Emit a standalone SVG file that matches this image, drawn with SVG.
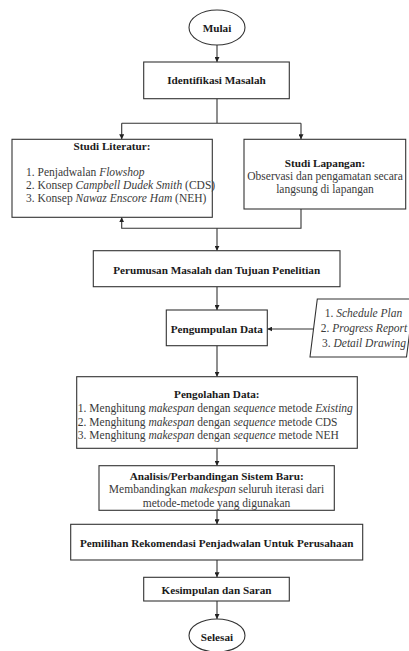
<svg xmlns="http://www.w3.org/2000/svg" width="409" height="651" viewBox="0 0 409 651">
<defs>
<style>
.b{fill:#fff;stroke:#333;stroke-width:1.1}
.c{fill:none;stroke:#333;stroke-width:1.1}
.t{font-family:'Liberation Serif',Tinos,'Times New Roman',Times,'DejaVu Serif',serif;font-size:11.5px;fill:#3a3a3a}
.h{font-family:'Liberation Serif',Tinos,'Times New Roman',Times,'DejaVu Serif',serif;font-size:11.2px;font-weight:bold;fill:#1a1a1a}
.m{text-anchor:middle}
</style>
<marker id="a" viewBox="0 0 10 10" refX="10" refY="5" markerWidth="5" markerHeight="5" orient="auto" markerUnits="userSpaceOnUse">
<path d="M0,0 L10,5 L0,10 Z" fill="#222"/>
</marker>
</defs>
<rect width="409" height="651" fill="#fff"/>
<g id="connectors" class="c">
<path d="M217,45 V62" marker-end="url(#a)"/>
<path d="M217,98.7 V123.3 M121.7,123.3 H301"/>
<path d="M121.7,123.3 V139.3" marker-end="url(#a)"/>
<path d="M301,123.3 V139.3" marker-end="url(#a)"/>
<path d="M301,209 V228.3 H121.7 V217.3" marker-end="url(#a)"/>
<path d="M217,228.3 V250.7" marker-end="url(#a)"/>
<path d="M217,286.7 V310" marker-end="url(#a)"/>
<path d="M314,329 H267.3" marker-end="url(#a)"/>
<path d="M217,345.7 V376.7" marker-end="url(#a)"/>
<path d="M217,448.3 V465.7" marker-end="url(#a)"/>
<path d="M217,510.3 V524.3" marker-end="url(#a)"/>
<path d="M217,560 V577.3" marker-end="url(#a)"/>
<path d="M217,601 V619" marker-end="url(#a)"/>
</g>
<g id="mulai">
<ellipse class="b" cx="217" cy="27.5" rx="28" ry="17.5"/>
<text class="h m" x="217" y="31.5" font-family="Liberation Serif, serif">Mulai</text>
</g>
<g id="identifikasi">
<rect class="b" x="143.7" y="62" width="145.6" height="36.7"/>
<text class="h m" x="216.5" y="84">Identifikasi Masalah</text>
</g>
<g id="studi-literatur">
<rect class="b" x="12" y="139.3" width="200.3" height="78"/>
<text class="h m" x="112" y="149.7">Studi Literatur:</text>
<text class="t" x="26" y="175.7">1. Penjadwalan <tspan font-style="italic">Flowshop</tspan></text>
<text class="t" x="26" y="189">2. Konsep <tspan font-style="italic">Campbell Dudek Smith</tspan> (CDS)</text>
<text class="t" x="26" y="202.3">3. Konsep <tspan font-style="italic">Nawaz Enscore Ham</tspan> (NEH)</text>
</g>
<g id="studi-lapangan">
<rect class="b" x="244" y="139.3" width="161.7" height="69.7"/>
<text class="h m" x="325" y="166.7">Studi Lapangan:</text>
<text class="t m" x="325" y="179.7">Observasi dan pengamatan secara</text>
<text class="t m" x="325" y="193">langsung di lapangan</text>
</g>
<g id="perumusan">
<rect class="b" x="93.3" y="250.7" width="246.7" height="36"/>
<text class="h m" x="216.7" y="274">Perumusan Masalah dan Tujuan Penelitian</text>
</g>
<g id="pengumpulan">
<rect class="b" x="166.3" y="310" width="101" height="35.7"/>
<text class="h m" x="216.8" y="333">Pengumpulan Data</text>
</g>
<g id="data-input">
<polygon class="b" points="317.3,299 414,299 406.5,357 310,357"/>
<text class="t m" x="363.5" y="317.3">1. <tspan font-style="italic">Schedule Plan</tspan></text>
<text class="t m" x="364" y="332.3">2. <tspan font-style="italic">Progress Report</tspan></text>
<text class="t m" x="364" y="346.7">3. <tspan font-style="italic">Detail Drawing</tspan></text>
</g>
<g id="pengolahan">
<rect class="b" x="76.7" y="376.7" width="280.6" height="71.6"/>
<text class="h m" x="216.8" y="398">Pengolahan Data:</text>
<text class="t" x="77.8" y="412.3">1. Menghitung <tspan font-style="italic">makespan</tspan> dengan <tspan font-style="italic">sequence</tspan> metode <tspan font-style="italic">Existing</tspan></text>
<text class="t" x="77.8" y="425.7">2. Menghitung <tspan font-style="italic">makespan</tspan> dengan <tspan font-style="italic">sequence</tspan> metode CDS</text>
<text class="t" x="77.8" y="439">3. Menghitung <tspan font-style="italic">makespan</tspan> dengan <tspan font-style="italic">sequence</tspan> metode NEH</text>
</g>
<g id="analisis">
<rect class="b" x="99" y="465.7" width="235.3" height="44.6"/>
<text class="h m" x="216.7" y="479.7">Analisis/Perbandingan Sistem Baru:</text>
<text class="t m" x="216.5" y="493">Membandingkan <tspan font-style="italic">makespan</tspan> seluruh iterasi dari</text>
<text class="t m" x="216.5" y="507.3">metode-metode yang digunakan</text>
</g>
<g id="pemilihan">
<rect class="b" x="70.7" y="524.3" width="292" height="35.7"/>
<text class="h m" x="216.7" y="546.7">Pemilihan Rekomendasi Penjadwalan Untuk Perusahaan</text>
</g>
<g id="kesimpulan">
<rect class="b" x="143.7" y="577.3" width="145.6" height="23.7"/>
<text class="h m" x="216.5" y="594">Kesimpulan dan Saran</text>
</g>
<g id="selesai">
<ellipse class="b" cx="217" cy="635.5" rx="28" ry="16.5"/>
<text class="h m" x="217" y="641.3">Selesai</text>
</g>
</svg>
